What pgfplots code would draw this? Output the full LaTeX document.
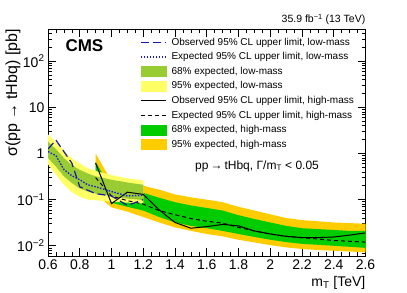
\documentclass[border=0pt]{standalone}
\usepackage{fontspec}
\setmainfont{Liberation Sans}
\usepackage{pgfplots}
\pgfplotsset{compat=1.18}
\usepgfplotslibrary{fillbetween}
\usepackage{pgfplotstable}

\definecolor{lowobs}{RGB}{25,25,160}
\definecolor{lowexp}{RGB}{25,25,220}
\definecolor{lowsix}{RGB}{153,204,51}
\definecolor{lownine}{RGB}{255,255,102}
\definecolor{highsix}{RGB}{0,204,0}
\definecolor{highnine}{RGB}{255,204,0}

\pgfplotstableread{
m    obs    exp    l68    h68   l95    h95
0.60 1.25   1.10   0.80   1.80  0.58   2.60
0.65 1.95   0.90   0.52   1.25  0.35   1.75
0.70 1.10   0.45   0.32   0.80  0.21   1.15
0.75 0.62   0.33   0.23   0.56  0.145  0.78
0.80 0.19   0.27   0.175  0.44  0.115  0.61
0.85 0.16   0.21   0.15   0.37  0.10   0.48
0.90 0.135  0.19   0.135  0.32  0.097  0.42
1.00 0.12   0.15   0.12   0.27  0.09   0.34
1.10 0.075  0.12   0.105  0.235 0.086  0.29
1.20 0.10   0.125  0.098  0.21  0.083  0.26
}\lowtab

\pgfplotstableread{
m    obs    exp    l68    h68   l95    h95
0.9  0.62   0.30   0.19   0.66  0.13   1.00
1.0  0.082  0.12   0.085  0.17  0.068  0.25
1.1  0.145  0.095  0.07   0.15  0.055  0.22
1.2  0.13   0.080  0.058  0.14  0.042  0.20
1.3  0.060  0.058  0.042  0.11  0.032  0.165
1.4  0.032  0.047  0.032  0.088 0.025  0.13
1.5  0.024  0.039  0.027  0.075 0.021  0.112
1.6  0.026  0.034  0.024  0.066 0.018  0.10
1.7  0.029  0.031  0.021  0.058 0.016  0.088
1.8  0.027  0.025  0.018  0.046 0.0135 0.07
1.9  0.021  0.021  0.0155 0.038 0.0118 0.058
2.0  0.018  0.018  0.0135 0.032 0.0103 0.048
2.1  0.016  0.016  0.012  0.027 0.0092 0.040
2.2  0.015  0.015  0.011  0.024 0.0085 0.036
2.3  0.015  0.014  0.0105 0.023 0.0081 0.034
2.4  0.0155 0.013  0.010  0.022 0.0078 0.032
2.5  0.017  0.0125 0.0095 0.021 0.0075 0.031
2.6  0.019  0.012  0.009  0.021 0.0072 0.030
}\hightab

\begin{document}
\begin{tikzpicture}
\begin{axis}[
  at={(48pt,36pt)}, anchor=south west,
  scale only axis, width=317.5pt, height=227pt,
  xmin=0.6, xmax=2.6, ymode=log, ymin=0.006, ymax=500,
  xtick={0.6,0.8,1.0,1.2,1.4,1.6,1.8,2.0,2.2,2.4,2.6},
  minor x tick num=3,
  ytick={0.01,0.1,1,10,100},
  yticklabels={10\textsuperscript{−2},10\textsuperscript{−1},1,10,10\textsuperscript{2}},
  minor ytick={0.006,0.007,0.008,0.009,0.02,0.03,0.04,0.05,0.06,0.07,0.08,0.09,0.2,0.3,0.4,0.5,0.6,0.7,0.8,0.9,2,3,4,5,6,7,8,9,20,30,40,50,60,70,80,90,200,300,400,500},
  tick align=inside, major tick length=8pt, minor tick length=4pt,
  ticklabel style={font=\fontsize{14}{14}\selectfont},
  /pgf/number format/assume math mode=true,
  axis line style={line width=0.8pt},
  tick style={line width=0.6pt, black},
  legend cell align=left,
  legend style={at={(0.29,0.97)}, anchor=north west, draw=none, fill=none, inner sep=0pt,
    font=\fontsize{10}{12}\selectfont, row sep=2.1pt,
    nodes={inner sep=1pt, text height=8pt, text depth=2.5pt},
    /tikz/every odd column/.append style={column sep=4pt}},
]
% high-mass bands
\addplot[draw=none, name path=hnu, forget plot] table[x=m,y=h95]{\hightab};
\addplot[draw=none, name path=hnl, forget plot] table[x=m,y=l95]{\hightab};
\addplot[fill=highnine, draw=none, forget plot] fill between[of=hnu and hnl];
\addplot[draw=none, name path=hsu, forget plot] table[x=m,y=h68]{\hightab};
\addplot[draw=none, name path=hsl, forget plot] table[x=m,y=l68]{\hightab};
\addplot[fill=highsix, draw=none, forget plot] fill between[of=hsu and hsl];
% low-mass bands
\addplot[draw=none, name path=lnu, forget plot] table[x=m,y=h95]{\lowtab};
\addplot[draw=none, name path=lnl, forget plot] table[x=m,y=l95]{\lowtab};
\addplot[fill=lownine, draw=none, forget plot] fill between[of=lnu and lnl];
\addplot[draw=none, name path=lsu, forget plot] table[x=m,y=h68]{\lowtab};
\addplot[draw=none, name path=lsl, forget plot] table[x=m,y=l68]{\lowtab};
\addplot[fill=lowsix, draw=none, forget plot] fill between[of=lsu and lsl];
% lines
\addplot[black, line width=1pt, dash pattern=on 4pt off 3pt, forget plot] table[x=m,y=exp]{\hightab};
\addplot[black, line width=1pt, forget plot] table[x=m,y=obs]{\hightab};
\addplot[lowexp, line width=1.3pt, dash pattern=on 1.5pt off 1.5pt, forget plot] table[x=m,y=exp]{\lowtab};
\addplot[lowobs, line width=1.2pt, dash pattern=on 8pt off 4pt, forget plot] table[x=m,y=obs]{\lowtab};
% legend
\addlegendimage{legend image code/.code={\draw[lowobs, line width=1.2pt, dash pattern=on 8pt off 4pt] (0pt,0pt) -- (25pt,0pt);}}
\addlegendentry{Observed 95\% CL upper limit, low-mass}
\addlegendimage{legend image code/.code={\draw[lowexp, line width=1.3pt, dash pattern=on 1.5pt off 1.5pt] (0pt,0pt) -- (25pt,0pt);}}
\addlegendentry{Expected 95\% CL upper limit, low-mass}
\addlegendimage{legend image code/.code={\fill[lowsix] (0pt,-5pt) rectangle (25pt,5pt);}}
\addlegendentry{68\% expected, low-mass}
\addlegendimage{legend image code/.code={\fill[lownine] (0pt,-5pt) rectangle (25pt,5pt);}}
\addlegendentry{95\% expected, low-mass}
\addlegendimage{legend image code/.code={\draw[black, line width=1pt] (0pt,0pt) -- (25pt,0pt);}}
\addlegendentry{Observed 95\% CL upper limit, high-mass}
\addlegendimage{legend image code/.code={\draw[black, line width=1pt, dash pattern=on 4pt off 3pt] (0pt,0pt) -- (25pt,0pt);}}
\addlegendentry{Expected 95\% CL upper limit, high-mass}
\addlegendimage{legend image code/.code={\fill[highsix] (0pt,-5pt) rectangle (25pt,5pt);}}
\addlegendentry{68\% expected, high-mass}
\addlegendimage{legend image code/.code={\fill[highnine] (0pt,-5pt) rectangle (25pt,5pt);}}
\addlegendentry{95\% expected, high-mass}
\end{axis}
\node[anchor=west, font=\bfseries\fontsize{17}{17}\selectfont] at (62pt,246pt) {CMS};
\node[anchor=base east, font=\fontsize{10.5}{12}\selectfont, inner sep=0pt] at (365.5pt,269pt) {35.9 fb\textsuperscript{−1} (13 TeV)};
\node[anchor=west, font=\fontsize{12}{14}\selectfont, inner sep=0pt] at (195pt,126pt) {pp\hspace{2pt}→\hspace{2pt}tHbq, Γ/m\textsubscript{T} < 0.05};
\node[anchor=base east, font=\fontsize{14}{16}\selectfont, inner sep=0pt] at (365.5pt,6pt) {m\textsubscript{T} [TeV]};
\node[rotate=90, anchor=base east, font=\fontsize{16}{18}\selectfont, inner sep=0pt] at (17pt,263pt) {σ(pp\hspace{4pt}→\hspace{4pt}tHbq) [pb]};
\pgfresetboundingbox
\path[use as bounding box] (0,0) rectangle (407pt,292pt);
\end{tikzpicture}
\end{document}
